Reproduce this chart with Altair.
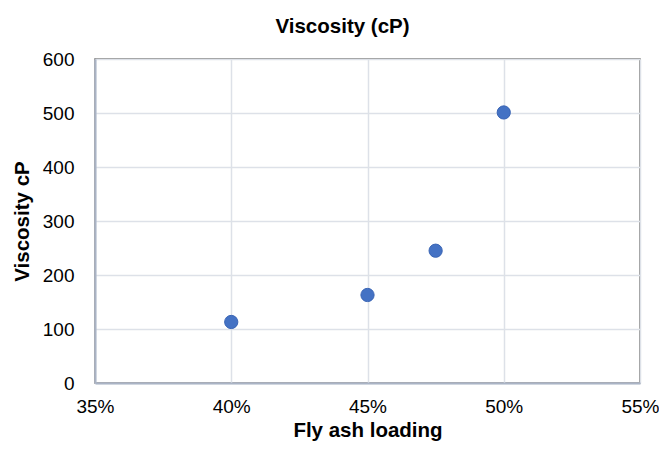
import altair as alt
import pandas as pd

loading = [0.40, 0.45, 0.475, 0.50]
viscosity = [113, 163, 245, 501]

df = pd.DataFrame({"loading": loading, "viscosity": viscosity})

FONT = "Liberation Sans"

chart = alt.Chart(df).mark_circle(
    size=175, color="#4472C4", opacity=1, stroke="#3a65b5", strokeWidth=1
).encode(
    x=alt.X("loading:Q",
            scale=alt.Scale(domain=[0.35, 0.55], nice=False, zero=False),
            axis=alt.Axis(title="Fly ash loading", format=".0%", values=[0.35, 0.40, 0.45, 0.50, 0.55],
                          tickSize=0, labelPadding=14, titlePadding=4, labelFlush=False,
                          labelFontSize=19, titleFontSize=20.5, titleFontWeight="bold",
                          labelFont=FONT, titleFont=FONT, labelColor="#000000", titleColor="#000000",
                          domainColor="#aab4c6", domainWidth=2, gridColor="#dde1e8", gridWidth=1.5)),
    y=alt.Y("viscosity:Q",
            scale=alt.Scale(domain=[0, 600], nice=False),
            axis=alt.Axis(title="Viscosity cP", values=[0, 100, 200, 300, 400, 500, 600],
                          tickSize=0, labelPadding=21, titlePadding=10,
                          labelFontSize=19, titleFontSize=20.5, titleFontWeight="bold",
                          labelFont=FONT, titleFont=FONT, labelColor="#000000", titleColor="#000000",
                          domainColor="#aab4c6", domainWidth=2, gridColor="#dde1e8", gridWidth=1.5)),
).properties(
    width=545, height=324,
    autosize=alt.AutoSizeParams(type="none"),
    padding={"left": 87, "top": 51, "right": 19, "bottom": 61},
    title=alt.TitleParams("Viscosity (cP)", font=FONT, fontSize=20.5, fontWeight="bold",
                          color="#000000", anchor="middle", dx=-25, offset=13),
).configure_view(stroke="#707070", strokeWidth=1.5)

chart.save("out.html", embed_options={"renderer": "svg", "actions": False})
